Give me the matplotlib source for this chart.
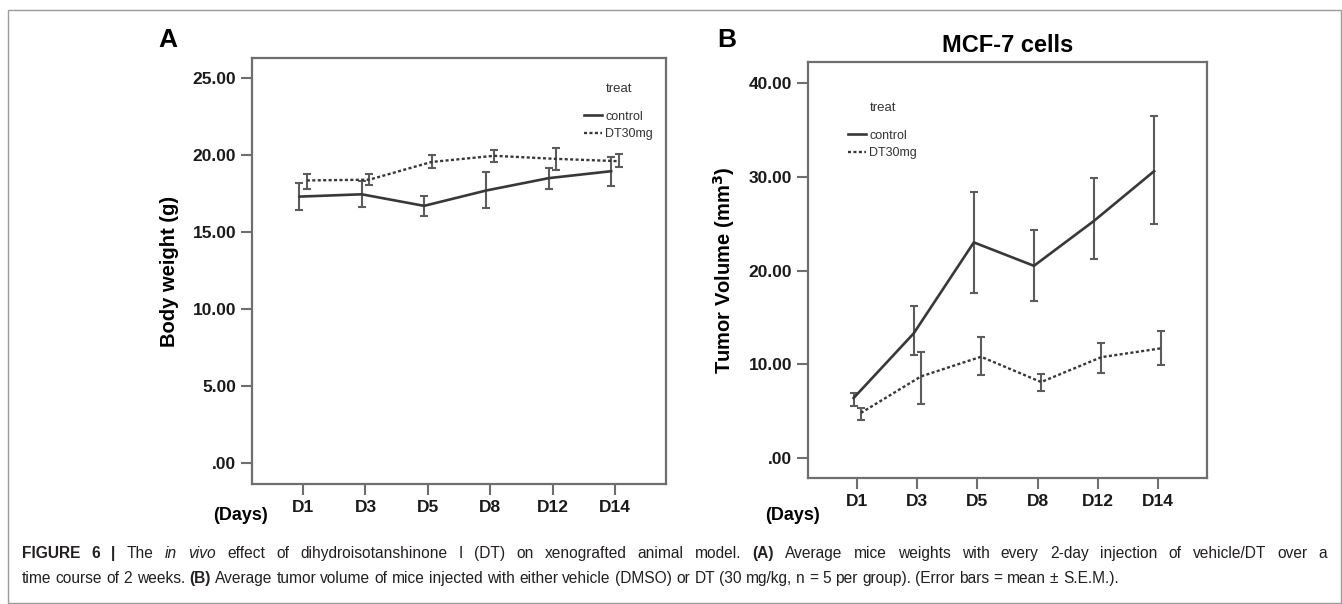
import numpy as np
import matplotlib.pyplot as plt
from matplotlib.patches import Rectangle

plt.rcParams['font.family'] = ['Liberation Sans', 'DejaVu Sans']

days = ["D1", "D3", "D5", "D8", "D12", "D14"]

# Panel A - body weight (g), mean and error-bar ends
wt_ctrl = [17.3, 17.45, 16.7, 17.7, 18.5, 18.95]
wt_ctrl_lo = [16.4, 16.6, 16.05, 16.55, 17.8, 18.0]
wt_ctrl_hi = [18.2, 18.3, 17.35, 18.9, 19.15, 19.9]
wt_dt = [18.35, 18.4, 19.55, 19.95, 19.75, 19.6]
wt_dt_lo = [17.8, 18.05, 19.15, 19.55, 19.0, 19.2]
wt_dt_hi = [18.8, 18.8, 20.0, 20.35, 20.45, 20.05]
wt_ticks = [0, 5, 10, 15, 20, 25]
wt_labels = [".00", "5.00", "10.00", "15.00", "20.00", "25.00"]

# Panel B - tumor volume (mm3)
tv_ctrl = [6.4, 13.3, 23.0, 20.5, 25.3, 30.6]
tv_ctrl_lo = [5.5, 11.0, 17.6, 16.8, 21.2, 25.0]
tv_ctrl_hi = [6.9, 16.2, 28.4, 24.3, 29.9, 36.5]
tv_dt = [4.8, 8.7, 10.8, 8.1, 10.75, 11.7]
tv_dt_lo = [4.1, 5.8, 8.9, 7.1, 9.1, 9.9]
tv_dt_hi = [5.3, 11.3, 12.9, 8.95, 12.3, 13.5]
tv_ticks = [0, 10, 20, 30, 40]
tv_labels = [".00", "10.00", "20.00", "30.00", "40.00"]

groups = ["control", "DT30mg"]

LINE = "#383838"
BAR = "#5c5c5c"
FRAME = "#6e6e6e"

fig = plt.figure(figsize=(13.42, 6.04), dpi=100)
W, H = 1342.0, 604.0


def fx(px):
    return px / W


def fy(py):
    return 1 - py / H


# outer figure frame
fig.patches.append(Rectangle((fx(8), fy(603)), fx(1333), (603 - 10) / H,
                             transform=fig.transFigure, fill=False,
                             edgecolor="#9a9a9a", linewidth=1.0))


def panel(rect, mean_c, lo_c, hi_c, mean_d, lo_d, hi_d, ticks, labels, ylim):
    ax = fig.add_axes(rect)
    x = np.arange(len(days))
    xc = x - 0.06
    xd = x + 0.06
    mc, md = np.array(mean_c), np.array(mean_d)
    ax.errorbar(xc, mc, yerr=[mc - np.array(lo_c), np.array(hi_c) - mc],
                fmt="none", ecolor=BAR, elinewidth=1.5, capsize=3, capthick=1.5)
    ax.errorbar(xd, md, yerr=[md - np.array(lo_d), np.array(hi_d) - md],
                fmt="none", ecolor=BAR, elinewidth=1.5, capsize=3, capthick=1.5)
    l1, = ax.plot(xc, mc, color=LINE, lw=1.9, label=groups[0])
    l2, = ax.plot(xd, md, color=LINE, lw=1.7, linestyle=(0, (1.3, 1.0)),
                  label=groups[1])
    ax.set_xlim(-0.82, 5.82)
    ax.set_ylim(*ylim)
    ax.set_xticks(x)
    ax.set_xticklabels(days)
    ax.set_yticks(ticks)
    ax.set_yticklabels(labels)
    for s in ax.spines.values():
        s.set_color(FRAME)
        s.set_linewidth(1.6)
    ax.tick_params(length=8, width=1.5, color=FRAME, labelsize=12.5,
                   labelcolor="#1a1a1a", pad=3.5)
    for t in ax.get_xticklabels() + ax.get_yticklabels():
        t.set_fontweight("bold")
    return ax, l1, l2


def add_legend(ax, handles, anchor):
    leg = ax.legend(handles=handles, title="treat", frameon=False, fontsize=9,
                    title_fontsize=9.5, handlelength=1.4, handletextpad=0.3,
                    labelspacing=0.45, loc="upper left",
                    bbox_to_anchor=anchor, bbox_transform=fig.transFigure)
    leg._legend_box.sep = 11
    for t in leg.get_texts():
        t.set_color("#333333")
    leg.get_title().set_color("#333333")
    return leg


# panel A
axA, a1, a2 = panel([fx(252), fy(484), fx(666 - 252), (484 - 58) / H],
                    wt_ctrl, wt_ctrl_lo, wt_ctrl_hi, wt_dt, wt_dt_lo, wt_dt_hi,
                    wt_ticks, wt_labels, (-1.36, 26.3))
axA.set_ylabel("Body weight (g)", fontsize=14.5, fontweight="bold", labelpad=10)
add_legend(axA, [a1, a2], (fx(573), fy(72)))

# panel B
axB, b1, b2 = panel([fx(808), fy(478), fx(1207 - 808), (478 - 62) / H],
                    tv_ctrl, tv_ctrl_lo, tv_ctrl_hi, tv_dt, tv_dt_lo, tv_dt_hi,
                    tv_ticks, tv_labels, (-2.14, 42.25))
axB.set_ylabel("Tumor Volume (mm$^\\mathbf{3}$)", fontsize=14.5, fontweight="bold",
               labelpad=8)
axB.set_title("MCF-7 cells", fontsize=17, fontweight="bold", pad=7)
add_legend(axB, [b1, b2], (fx(837), fy(91)))

fig.text(fx(168), fy(40), "A", fontsize=19, fontweight="bold", ha="center", va="center")
fig.text(fx(727), fy(40), "B", fontsize=19, fontweight="bold", ha="center", va="center")
fig.text(fx(241), fy(515), "(Days)", fontsize=13, fontweight="bold", ha="center", va="center")
fig.text(fx(792), fy(515), "(Days)", fontsize=13, fontweight="bold", ha="center", va="center")

# caption with mixed styles; first line justified to the full width
renderer = fig.canvas.get_renderer()
CAP = "#231f20"
cap_size = 11.2
B = {"fontweight": "bold"}
I = {"fontstyle": "italic"}
N = {}


def text_w(txt, style):
    t = fig.text(0, 0, txt, fontsize=cap_size, **style)
    w = t.get_window_extent(renderer=renderer).width
    t.remove()
    return w


def rich_line(x0, y, parts, right=None):
    words = []
    for txt, style in parts:
        for w in txt.split():
            words.append((w, style))
    widths = [text_w(w, s) for w, s in words]
    gap = text_w("a a", N) - text_w("aa", N)
    if right is not None:
        gap = (right - x0 - sum(widths)) / (len(words) - 1)
    x = x0
    for (w, s), wd in zip(words, widths):
        fig.text(fx(x), fy(y), w, fontsize=cap_size, color=CAP, va="baseline", **s)
        x += wd + gap


rich_line(22, 558, [
    ("FIGURE 6 |", B), ("The", N), ("in vivo", I),
    ("effect of dihydroisotanshinone I (DT) on xenografted animal model.", N),
    ("(A)", B),
    ("Average mice weights with every 2-day injection of vehicle/DT over a", N)],
    right=1327)
rich_line(22, 583, [
    ("time course of 2 weeks.", N), ("(B)", B),
    ("Average tumor volume of mice injected with either vehicle (DMSO) or DT "
     "(30 mg/kg, n = 5 per group). (Error bars = mean \u00b1 S.E.M.).", N)])

fig.savefig("out.png", dpi=100)
